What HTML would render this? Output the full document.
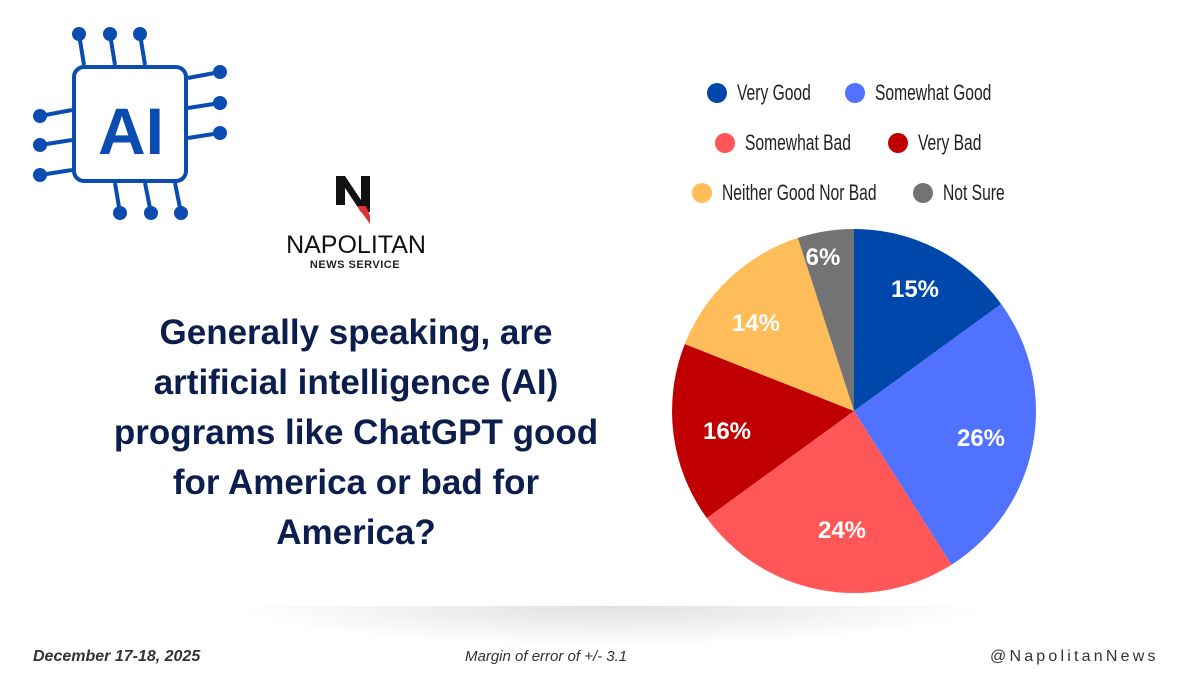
<!DOCTYPE html>
<html><head><meta charset="utf-8"><style>
body{margin:0;width:1200px;height:675px;background:#fff;overflow:hidden;position:relative;font-family:"Liberation Sans",sans-serif}
.q{position:absolute;left:56px;top:308px;width:600px;text-align:center;font-weight:bold;font-size:35px;line-height:50px;color:#0c1e4d}
.lg{position:absolute;font-family:"Liberation Sans",sans-serif;font-size:22px;color:#222;white-space:nowrap}
.lg span.t{display:inline-block;transform:scaleX(0.71);transform-origin:left center}
.dot{display:inline-block;width:20px;height:20px;border-radius:50%;vertical-align:-3px;margin-right:10px}
.ft{position:absolute;top:648px;font-size:16px;font-style:italic;color:#333}
.shadow{position:absolute;left:230px;top:606px;width:760px;height:40px;background:radial-gradient(ellipse at 50% 0%,rgba(0,0,0,0.12),rgba(0,0,0,0) 70%)}
</style></head><body>
<svg width="1200" height="675" style="position:absolute;left:0;top:0">
<g stroke="#0a4cb0" stroke-width="4" fill="none">
<rect x="74" y="67" width="112" height="114" rx="10"/>
<line x1="84" y1="65" x2="79" y2="34"/><line x1="115" y1="65" x2="110" y2="34"/><line x1="145" y1="65" x2="140" y2="34"/>
<line x1="188" y1="78" x2="220" y2="72"/><line x1="188" y1="108" x2="220" y2="103"/><line x1="188" y1="138" x2="220" y2="133"/>
<line x1="72" y1="110" x2="40" y2="116"/><line x1="72" y1="140" x2="40" y2="145"/><line x1="72" y1="170" x2="40" y2="175"/>
<line x1="115" y1="183" x2="120" y2="213"/><line x1="145" y1="183" x2="151" y2="213"/><line x1="175" y1="183" x2="181" y2="213"/>
</g>
<g fill="#0a4cb0">
<circle cx="79" cy="34" r="7"/><circle cx="110" cy="34" r="7"/><circle cx="140" cy="34" r="7"/>
<circle cx="220" cy="72" r="7"/><circle cx="220" cy="103" r="7"/><circle cx="220" cy="133" r="7"/>
<circle cx="40" cy="116" r="7"/><circle cx="40" cy="145" r="7"/><circle cx="40" cy="175" r="7"/>
<circle cx="120" cy="213" r="7"/><circle cx="151" cy="213" r="7"/><circle cx="181" cy="213" r="7"/>
<text x="131" y="154" font-family="Liberation Sans" font-weight="bold" font-size="66" text-anchor="middle">AI</text>
</g>
<polygon points="336,176 345,176 361,200 361,176 370,176 370,212 361,212 345,188 345,205 336,205" fill="#111"/>
<polygon points="357,206 366,206 370,216 370,224" fill="#d33"/>
<text x="356" y="253" font-family="Liberation Sans" font-size="25" text-anchor="middle" fill="#111">NAPOLITAN</text>
<text x="355" y="268" font-family="Liberation Sans" font-weight="bold" font-size="11" text-anchor="middle" fill="#222" letter-spacing="0.5">NEWS SERVICE</text>
<path d="M854,411 L854,229 A182,182 0 0 1 1001.2,304 Z" fill="#0047ab"/>
<path d="M854,411 L1001.2,304 A182,182 0 0 1 951.5,564.7 Z" fill="#5171ff"/>
<path d="M854,411 L951.5,564.7 A182,182 0 0 1 706.8,518 Z" fill="#ff5757"/>
<path d="M854,411 L706.8,518 A182,182 0 0 1 684.8,344 Z" fill="#c00000"/>
<path d="M854,411 L684.8,344 A182,182 0 0 1 797.8,237.9 Z" fill="#ffbd59"/>
<path d="M854,411 L797.8,237.9 A182,182 0 0 1 854,229 Z" fill="#737373"/>
<g font-family="Liberation Sans" font-weight="bold" font-size="24" fill="#fff" text-anchor="middle">
<text x="915" y="297">15%</text><text x="981" y="446">26%</text><text x="842" y="538">24%</text>
<text x="727" y="439">16%</text><text x="756" y="331">14%</text><text x="823" y="265">6%</text>
</g>
</svg>
<div class="lg" style="left:707px;top:80px"><span class="dot" style="background:#0047ab"></span><span class="t">Very Good</span></div>
<div class="lg" style="left:845px;top:80px"><span class="dot" style="background:#5171ff"></span><span class="t">Somewhat Good</span></div>
<div class="lg" style="left:715px;top:130px"><span class="dot" style="background:#ff5757"></span><span class="t">Somewhat Bad</span></div>
<div class="lg" style="left:888px;top:130px"><span class="dot" style="background:#c00000"></span><span class="t">Very Bad</span></div>
<div class="lg" style="left:692px;top:180px"><span class="dot" style="background:#ffbd59"></span><span class="t">Neither Good Nor Bad</span></div>
<div class="lg" style="left:913px;top:180px"><span class="dot" style="background:#737373"></span><span class="t">Not Sure</span></div>
<div class="q">Generally speaking, are<br>artificial intelligence (AI)<br>programs like ChatGPT good<br>for America or bad for<br>America?</div>
<div class="shadow"></div>
<div class="ft" style="left:33px;font-weight:bold">December 17-18, 2025</div>
<div class="ft" style="left:465px;font-size:15px">Margin of error of +/- 3.1</div>
<div class="ft" style="left:990px;font-style:normal;letter-spacing:3.2px;font-size:16px">@NapolitanNews</div>
</body></html>
